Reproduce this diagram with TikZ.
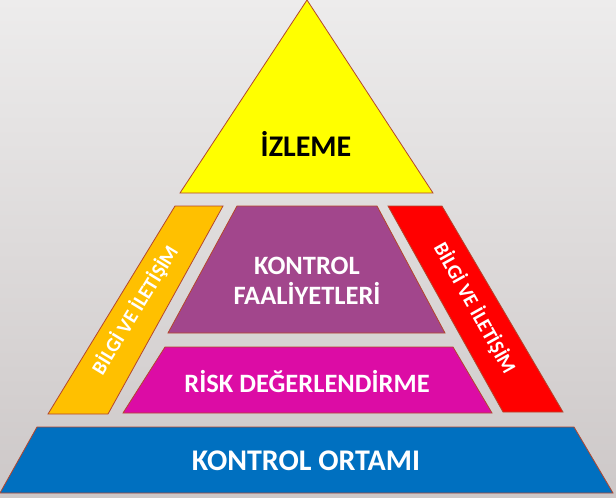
\documentclass[tikz,border=0pt]{standalone}
\usepackage{fontspec}
\setmainfont{Carlito}
\definecolor{bgtop}{RGB}{237,236,236}
\definecolor{bgbot}{RGB}{205,200,200}
\definecolor{edge}{RGB}{180,70,45}
\definecolor{izleme}{RGB}{255,255,0}
\definecolor{bilgiL}{RGB}{255,192,0}
\definecolor{bilgiR}{RGB}{255,0,0}
\definecolor{faaliyet}{RGB}{162,70,140}
\definecolor{risk}{RGB}{220,12,165}
\definecolor{ortam}{RGB}{0,112,192}
\begin{document}
\begin{tikzpicture}[x=1pt,y=-1pt,line join=miter]
        % Styles
        \tikzstyle{layer}=[draw=edge,line width=0.8pt]
        \tikzstyle{big text}=[font=\bfseries\fontsize{30}{32}\selectfont,text=white,align=center]
        \tikzstyle{mid text}=[font=\bfseries\fontsize{26.5}{30}\selectfont,text=white,align=center]
        \tikzstyle{side text}=[font=\bfseries\fontsize{20.3}{22}\selectfont,text=white]
        %background
        \shade[top color=bgtop,bottom color=bgbot] (0,0) rectangle (616,498);
        \useasboundingbox (0,0) rectangle (616,498);
        %the pyramid
        \filldraw[layer,fill=izleme] (307,0) -- (433,193) -- (180,193) -- cycle;
        \filldraw[layer,fill=faaliyet] (237,206) -- (377,206) -- (445,333) -- (168,333) -- cycle;
        \filldraw[layer,fill=risk] (165,347) -- (453,347) -- (492,413) -- (123,413) -- cycle;
        \filldraw[layer,fill=ortam] (37,427) -- (574,427) -- (613,493) -- (0,493) -- cycle;
        %side bands
        \filldraw[layer,fill=bilgiL] (175,206) -- (223,206) -- (108,414) -- (48,414) -- cycle;
        \filldraw[layer,fill=bilgiR] (388,206) -- (442,206) -- (563,412) -- (503,412) -- cycle;
        %texts
        \node[big text,text=black] (izleme) at (306,144) {İZLEME};
        \node[mid text] (faaliyet) at (307,281) {KONTROL\\FAALİYETLERİ};
        \node[mid text] (risk) at (307,382) {RİSK DEĞERLENDİRME};
        \node[big text] (ortam) at (306,461) {KONTROL ORTAMI};
        \node[side text,rotate=58.6] (bilgiL) at (135,310) {BİLGİ VE İLETİŞİM};
        \node[side text,rotate=-60.8] (bilgiR) at (475,308) {BİLGİ VE İLETİŞİM};
\end{tikzpicture}
\end{document}
